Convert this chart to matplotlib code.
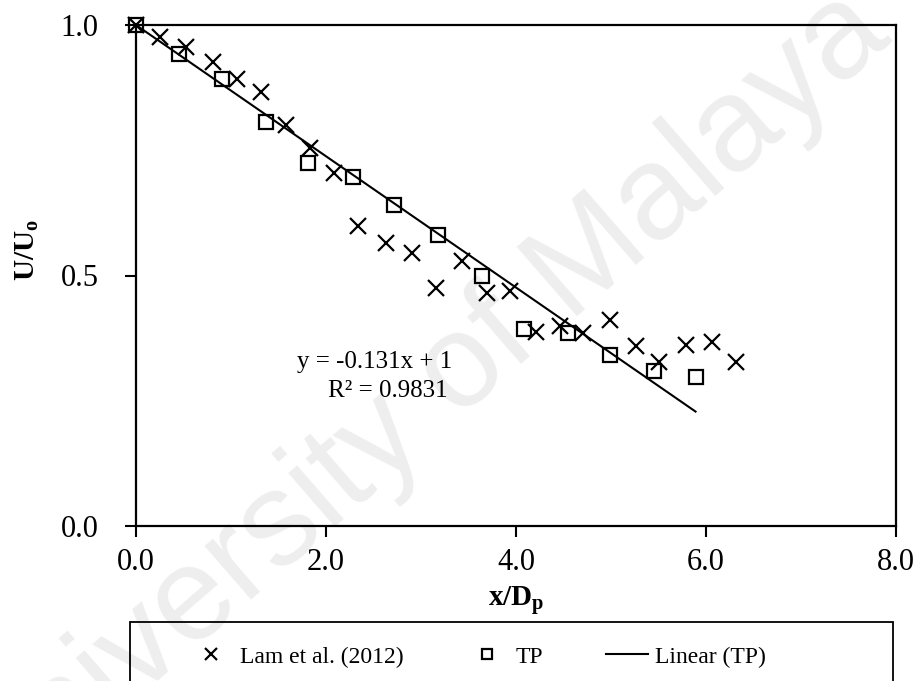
"""
+ U/Uo vs x/Dp (TP vs Lam et al. 2012)
"""
import matplotlib
matplotlib.use("Agg")
import matplotlib.pyplot as plt
from matplotlib.patches import Rectangle
import numpy as np

# --- データ ---
lam_x = [0.0, 0.25, 0.53, 0.81, 1.06, 1.32, 1.58, 1.83, 2.08, 2.34, 2.63, 2.91,
         3.16, 3.43, 3.69, 3.94, 4.21, 4.46, 4.71, 4.99, 5.26, 5.51, 5.79, 6.06, 6.32]
lam_y = [1.0, 0.976, 0.956, 0.926, 0.893, 0.867, 0.800, 0.754, 0.705, 0.599, 0.565, 0.545,
         0.475, 0.529, 0.465, 0.469, 0.387, 0.400, 0.386, 0.411, 0.359, 0.328, 0.361, 0.367, 0.328]
tp_x = [0.0, 0.45, 0.91, 1.37, 1.81, 2.28, 2.72, 3.18, 3.64, 4.08, 4.55, 4.99, 5.45, 5.89]
tp_y = [1.0, 0.942, 0.892, 0.806, 0.725, 0.697, 0.641, 0.581, 0.499, 0.393, 0.385, 0.341, 0.309, 0.297]
fit_slope = -0.131  # Excel トレンドライン (切片 1 固定)
fit_icpt = 1.0
x_ticks = [0.0, 2.0, 4.0, 6.0, 8.0]
y_ticks = [0.0, 0.5, 1.0]

plt.rcParams['font.family'] = ['Liberation Serif', 'DejaVu Serif']
plt.rcParams['mathtext.fontset'] = 'custom'
plt.rcParams['mathtext.rm'] = 'Liberation Serif'
plt.rcParams['mathtext.bf'] = 'Liberation Serif:bold'
plt.rcParams['mathtext.it'] = 'Liberation Serif:italic'

fig = plt.figure(figsize=(9.2, 6.81), dpi=100)
ax = fig.add_axes([136/920, 1-526/681, (896-136)/920, (526-25)/681])
ax.patch.set_alpha(0)

# --- 透かし ---
fig.text(0.455, 0.40, "University of Malaya", fontsize=96, color="#eeeeee",
         rotation=41, ha="center", va="center", family="Liberation Sans",
         zorder=-5)

# --- プロット ---
ax.plot(lam_x, lam_y, ls="none", marker="x", ms=12, mew=1.6, color="black",
        label="Lam et al. (2012)", clip_on=False, zorder=3)
ax.plot(tp_x, tp_y, ls="none", marker="s", ms=10, mew=1.6, mfc="none", mec="black",
        label="TP", clip_on=False, zorder=4)
xf = np.array([0.0, max(tp_x)])
ax.plot(xf, fit_slope*xf + fit_icpt, color="black", lw=1.5, label="Linear (TP)", zorder=2)

ax.text(2.51, 0.328, "y = -0.131x + 1", fontsize=18, ha="center", va="center")
ax.text(2.65, 0.270, "R² = 0.9831", fontsize=18, ha="center", va="center")

ax.set_xlim(0, 8)
ax.set_ylim(0, 1)
ax.set_xticks(x_ticks)
ax.set_yticks(y_ticks)
ax.set_xticklabels([f"{v:.1f}" for v in x_ticks])
ax.set_yticklabels([f"{v:.1f}" for v in y_ticks])
ax.tick_params(direction="out", length=8, width=1.5, labelsize=22, pad=8)
ax.tick_params(axis="y", pad=19)
for sp in ax.spines.values():
    sp.set_linewidth(1.6)

ax.set_xlabel(r"$\mathbf{x/D_p}$", fontsize=21, labelpad=5)
ax.set_ylabel(r"$\mathbf{U/U_o}$", fontsize=21)
ax.yaxis.set_label_coords(-0.125, 0.55)

# --- 凡例 ---
fig.patches.append(Rectangle((130/920, -0.05), (893-130)/920, 0.05 + 1-622/681,
                             transform=fig.transFigure, fill=False, lw=1.3,
                             edgecolor="black"))
h, l = ax.get_legend_handles_labels()
leg = fig.legend(h, l, loc="center", bbox_to_anchor=(478/920, 1-657/681), ncol=3,
                 frameon=False, fontsize=17, markerscale=0.7, handlelength=1.8,
                 handletextpad=0.3, columnspacing=2.65)

fig.savefig("out.png", dpi=100)
